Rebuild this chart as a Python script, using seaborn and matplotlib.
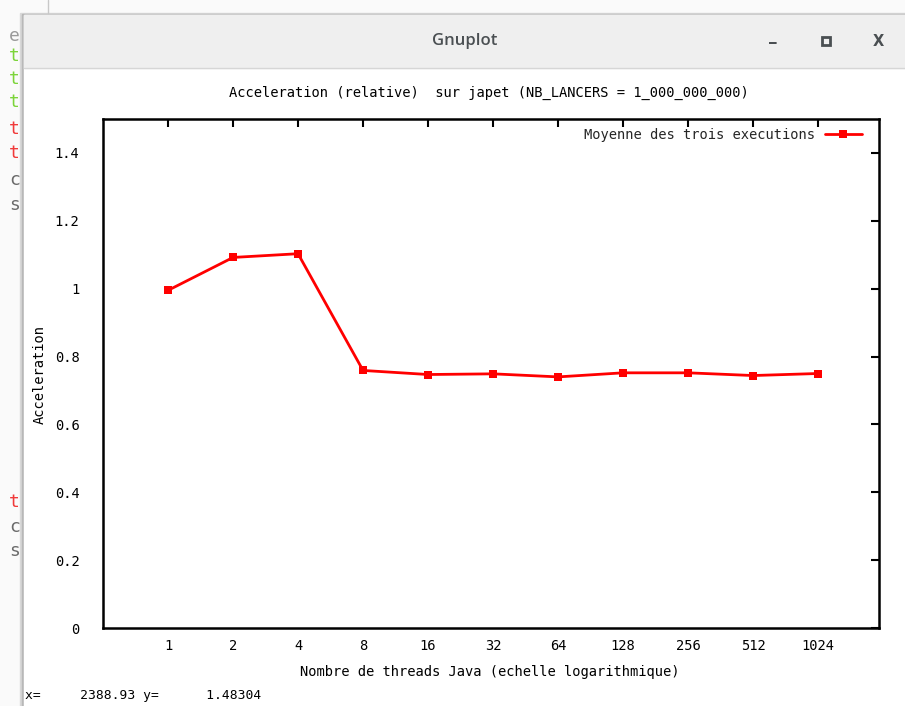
import matplotlib
matplotlib.use("Agg")
import matplotlib.pyplot as plt
import matplotlib.patches as mpatches
import numpy as np
import pandas as pd
import seaborn as sns

# data
threads = [1, 2, 4, 8, 16, 32, 64, 128, 256, 512, 1024]
acceleration = [0.995, 1.092, 1.103, 0.759, 0.747, 0.749, 0.740, 0.752, 0.752, 0.744, 0.750]
yticks = [0, 0.2, 0.4, 0.6, 0.8, 1.0, 1.2, 1.4]
ytick_labels = ["0", "0.2", "0.4", "0.6", "0.8", "1", "1.2", "1.4"]

title = "Acceleration (relative)  sur japet (NB_LANCERS = 1_000_000_000)"
xlabel = "Nombre de threads Java (echelle logarithmique)"
ylabel = "Acceleration"
series_name = "Moyenne des trois executions"
status = "x=     2388.93 y=      1.48304"

df = pd.DataFrame({"threads": threads, "acc": acceleration})

sns.set_theme(style="white")
plt.rcParams["font.family"] = ["DejaVu Sans Mono"]
fs = 9.9

W, H = 905, 706
fig = plt.figure(figsize=(W / 100, H / 100), dpi=100)
fig.patch.set_facecolor("white")

# --- window chrome drawn in pixel coordinates ---
bg = fig.add_axes([0, 0, 1, 1], zorder=0)
bg.set_xlim(0, W)
bg.set_ylim(H, 0)
bg.axis("off")
bg.add_patch(mpatches.Rectangle((0, 0), W, H, color="#fafafa"))
bg.add_patch(mpatches.Rectangle((20, 13), W - 20, H - 13, color="#d8d8d8"))
bg.add_patch(mpatches.Rectangle((22, 14), W - 22, H - 14, color="#b8b8b8"))
bg.add_patch(mpatches.Rectangle((24, 15), W - 24, H - 15, color="white"))
bg.add_patch(mpatches.Rectangle((24, 15), W - 24, 53, color="#efefef"))
bg.plot([24, W], [68, 68], color="#d6d6d6", lw=1)
bg.plot([48, 48], [0, 13], color="#c8c8c8", lw=1)
bg.text(465, 41, "Gnuplot", ha="center", va="center", fontsize=12,
        family=["Open Sans"], color="#4a4f52", fontweight="semibold")
bg.text(773, 44, "_", ha="center", va="bottom", fontsize=11, color="#4a4f52",
        family=["DejaVu Sans"], fontweight="bold")
bg.add_patch(mpatches.Rectangle((822, 37), 8, 8, fill=False, ec="#4a4f52", lw=2))
bg.text(878, 41, "X", ha="center", va="center", fontsize=10.5, color="#4a4f52",
        family=["DejaVu Sans"], fontweight="bold")

side = [("e", 36, "#9a9a9a"), ("t", 56, "#7cd43a"), ("t", 79, "#7cd43a"),
        ("t", 102, "#7cd43a"), ("t", 129, "#f03a3a"), ("t", 153, "#f03a3a"),
        ("c", 180, "#6a6a6a"), ("s", 205, "#6a6a6a"), ("t", 502, "#f03a3a"),
        ("c", 527, "#6a6a6a"), ("s", 551, "#6a6a6a")]
for ch, yy, col in side:
    bg.text(9, yy, ch, ha="left", va="center", fontsize=13, color=col,
            family=["DejaVu Sans Mono"])

bg.text(489, 93, title, ha="center", va="center", fontsize=fs, color="black")
bg.text(490, 672, xlabel, ha="center", va="center", fontsize=fs, color="black")
bg.text(40, 375, ylabel, ha="center", va="center", rotation=90, fontsize=fs, color="black")
bg.text(25, 695, status, ha="left", va="center", fontsize=9.4, color="black")

# --- plot area ---
ax = fig.add_axes([103 / W, 1 - 628 / H, (879 - 103) / W, (628 - 119) / H], zorder=1)
ax.patch.set_alpha(0)
sns.lineplot(data=df, x="threads", y="acc", ax=ax, color="red", lw=2,
             marker="s", markersize=6, markeredgewidth=0, label=series_name)
ax.set_xscale("log", base=2)
ax.set_xlim(0.5, 1960)
ax.set_ylim(0, 1.5)
ax.set_xticks(threads)
ax.set_xticklabels([str(t) for t in threads])
ax.minorticks_off()
ax.set_yticks(yticks)
ax.set_yticklabels(ytick_labels)
ax.set_xlabel("")
ax.set_ylabel("")
ax.tick_params(direction="in", length=6, width=1.5, top=True, right=True,
               labelsize=fs, colors="black")
ax.tick_params(axis="x", pad=8)
ax.tick_params(axis="y", pad=17)
for s in ax.spines.values():
    s.set_color("black")
    s.set_linewidth(1.8)
ax.legend(loc="upper right", bbox_to_anchor=(0.985, 0.993), borderaxespad=0,
          frameon=False, markerfirst=False, fontsize=fs,
          handlelength=2.7, handletextpad=0.7)

fig.savefig("out.png", dpi=100)
